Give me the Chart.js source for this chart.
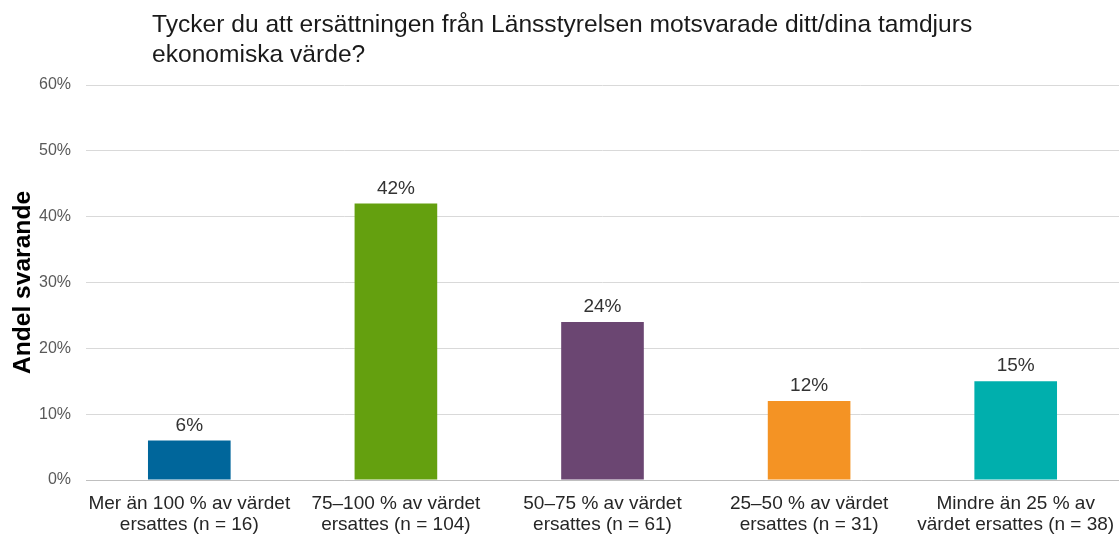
<!DOCTYPE html>
<html lang="sv">
<head>
<meta charset="utf-8">
<title>Ersättning från Länsstyrelsen</title>
<script src="https://cdn.jsdelivr.net/npm/chart.js@4.4.1/dist/chart.umd.min.js"></script>
<style>
    html, body {
        margin: 0;
        padding: 0;
        background: #ffffff;
    }
    #wrap {
        position: relative;
        width: 1119px;
        height: 534px;
    }
    #chartTitle {
        position: absolute;
        left: 152px;
        top: 9px;
        font-family: 'Liberation Sans', Arial, sans-serif;
        font-size: 24.6px;
        line-height: 29.5px;
        color: #1a1a1a;
        white-space: nowrap;
    }
</style>
</head>
<body>
<div id="wrap">
    <canvas id="chartCompensation" width="1119" height="534"></canvas>
    <div id="chartTitle">Tycker du att ersättningen från Länsstyrelsen motsvarade ditt/dina tamdjurs<br>ekonomiska värde?</div>
</div>
<script>
// Data
const categories = [
    ['Mer än 100 % av värdet', 'ersattes (n = 16)'],
    ['75–100 % av värdet', 'ersattes (n = 104)'],
    ['50–75 % av värdet', 'ersattes (n = 61)'],
    ['25–50 % av värdet', 'ersattes (n = 31)'],
    ['Mindre än 25 % av', 'värdet ersattes (n = 38)']
];
const shares = [6, 42, 24, 12, 15];
const barColors = ['#00669b', '#64a00f', '#6b4672', '#f49324', '#00afad'];
const yTicks = [0, 10, 20, 30, 40, 50, 60];

Chart.defaults.font.family = "'Liberation Sans', Arial, sans-serif";
Chart.defaults.color = '#595959';

// Percent labels drawn above each bar
const valueLabels = {
    id: 'valueLabels',
    afterDatasetsDraw(chart) {
        const ctx = chart.ctx;
        const meta = chart.getDatasetMeta(0);
        ctx.save();
        ctx.font = "19px 'Liberation Sans', Arial, sans-serif";
        ctx.fillStyle = '#333333';
        ctx.textAlign = 'center';
        ctx.textBaseline = 'alphabetic';
        meta.data.forEach((bar, i) => {
            ctx.fillText(shares[i] + '%', bar.x, bar.y - 10);
        });
        ctx.restore();
    }
};

const ctx = document.getElementById('chartCompensation');

new Chart(ctx, {
    type: 'bar',
    data: {
        labels: categories,
        datasets: [{
            data: shares,
            backgroundColor: barColors,
            borderWidth: 0,
            barPercentage: 0.4,
            categoryPercentage: 1.0
        }]
    },
    options: {
        responsive: false,
        animation: false,
        layout: {
            padding: { top: 85, right: 0, bottom: 0, left: 0 }
        },
        plugins: {
            legend: { display: false },
            tooltip: { enabled: false }
        },
        scales: {
            x: {
                afterFit(scale) {
                    scale.height = 54;
                    scale.paddingLeft = 0;
                    scale.paddingRight = 0;
                },
                grid: { display: false },
                border: { display: true, color: '#bfbfbf', width: 1 },
                ticks: {
                    color: '#262626',
                    padding: 6,
                    maxRotation: 0,
                    autoSkip: false,
                    font: { size: 19, lineHeight: 1.08 }
                }
            },
            y: {
                min: 0,
                max: 60,
                afterFit(scale) {
                    scale.width = 86;
                },
                afterBuildTicks(scale) {
                    scale.ticks = yTicks.map(v => ({ value: v }));
                },
                grid: {
                    color: '#d9d9d9',
                    lineWidth: 1,
                    drawTicks: false
                },
                border: { display: false },
                ticks: {
                    color: '#595959',
                    padding: 15,
                    font: { size: 16 },
                    callback: function(value) {
                        return value + '%';
                    }
                },
                title: {
                    display: true,
                    text: 'Andel svarande',
                    color: '#000000',
                    padding: { top: 8, bottom: 0 },
                    font: { size: 24.6, weight: 'bold' }
                }
            }
        }
    },
    plugins: [valueLabels]
});
</script>
</body>
</html>
